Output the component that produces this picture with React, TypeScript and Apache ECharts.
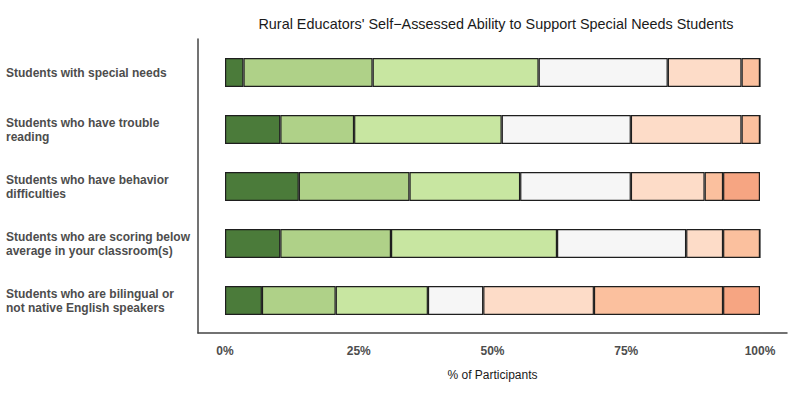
import React, { useEffect, useRef } from "react";
import * as echarts from "echarts";

const categories = [
  "Students with special needs",
  "Students who have trouble\nreading",
  "Students who have behavior\ndifficulties",
  "Students who are scoring below\naverage in your classroom(s)",
  "Students who are bilingual or\nnot native English speakers",
];

const levelNames = [
  "Very able",
  "Able",
  "Somewhat able",
  "Neutral",
  "Somewhat unable",
  "Unable",
  "Very unable",
];

const levelColors = [
  "#4B7B3A",
  "#AFD188",
  "#C8E6A1",
  "#F6F6F6",
  "#FDDCC8",
  "#FBC09E",
  "#F6A582",
];

// percent of participants per level, one array per level (rows follow categories)
const veryAble = [3.45, 10.34, 13.79, 10.34, 6.9];
const able = [24.14, 13.79, 20.69, 20.69, 13.79];
const somewhatAble = [31.03, 27.59, 20.69, 31.03, 17.24];
const neutral = [24.14, 24.14, 20.69, 24.14, 10.34];
const somewhatUnable = [13.79, 20.69, 13.79, 6.9, 20.69];
const unable = [3.45, 3.45, 3.45, 6.9, 24.14];
const veryUnable = [0, 0, 6.9, 0, 6.9];

const seriesValues = [veryAble, able, somewhatAble, neutral, somewhatUnable, unable, veryUnable];

const xTicks = [0, 25, 50, 75, 100];

export default function App() {
  const ref = useRef<HTMLDivElement>(null);

  useEffect(() => {
    if (!ref.current) return;
    const chart = echarts.init(ref.current, null, { renderer: "svg" });
    const option = {
      animation: false,
      backgroundColor: "#ffffff",
      title: {
        text: "Rural Educators' Self\u2212Assessed Ability to Support Special Needs Students",
        left: 491,
        top: 12,
        textAlign: "center",
        textStyle: {
          fontFamily: "Liberation Sans, Arial, sans-serif",
          fontSize: 14.4,
          fontWeight: "normal",
          color: "#1a1a1a",
        },
      },
      grid: [
        { left: 225, right: 33, top: 44, bottom: 68, containLabel: false },
        { left: 198, right: 6, top: 39, bottom: 64, containLabel: false },
      ],
      xAxis: [
        {
          type: "value",
          gridIndex: 0,
          min: xTicks[0],
          max: xTicks[xTicks.length - 1],
          interval: 25,
          name: "% of Participants",
          nameLocation: "middle",
          nameGap: 40,
          nameTextStyle: {
            fontFamily: "Liberation Sans, Arial, sans-serif",
            fontSize: 12,
            color: "#1a1a1a",
          },
          axisLine: { show: false },
          axisTick: { show: false },
          splitLine: { show: false },
          axisLabel: {
            margin: 16,
            formatter: (v: number) => `${v}%`,
            fontFamily: "Liberation Sans, Arial, sans-serif",
            fontSize: 12,
            fontWeight: "bold",
            color: "#4D4D4D",
          },
        },
        {
          type: "value",
          gridIndex: 1,
          min: 0,
          max: 1,
          axisLine: { show: true, lineStyle: { color: "#444", width: 1.5 } },
          axisTick: { show: false },
          axisLabel: { show: false },
          splitLine: { show: false },
        },
      ],
      yAxis: [
        {
          type: "category",
          gridIndex: 0,
          data: categories,
          inverse: true,
          axisLine: { show: false },
          axisTick: { show: false },
          splitLine: { show: false },
          axisLabel: {
            align: "left",
            margin: 219,
            fontFamily: "Liberation Sans, Arial, sans-serif",
            fontSize: 12,
            fontWeight: "bold",
            lineHeight: 14,
            color: "#4D4D4D",
          },
        },
        {
          type: "value",
          gridIndex: 1,
          min: 0,
          max: 1,
          axisLine: { show: true, lineStyle: { color: "#444", width: 1.5 } },
          axisTick: { show: false },
          axisLabel: { show: false },
          splitLine: { show: false },
        },
      ],
      series: seriesValues.map((vals, i) => ({
        name: levelNames[i],
        type: "bar",
        stack: "total",
        xAxisIndex: 0,
        yAxisIndex: 0,
        barWidth: "51%",
        data: vals,
        itemStyle: {
          color: levelColors[i],
          borderColor: "#1e1e1e",
          borderWidth: 1.2,
        },
      })),
    };
    chart.setOption(option);
    return () => chart.dispose();
  }, []);

  return (
    <div
      ref={ref}
      style={{ position: "fixed", left: 0, top: 0, width: 793, height: 397 }}
    />
  );
}
